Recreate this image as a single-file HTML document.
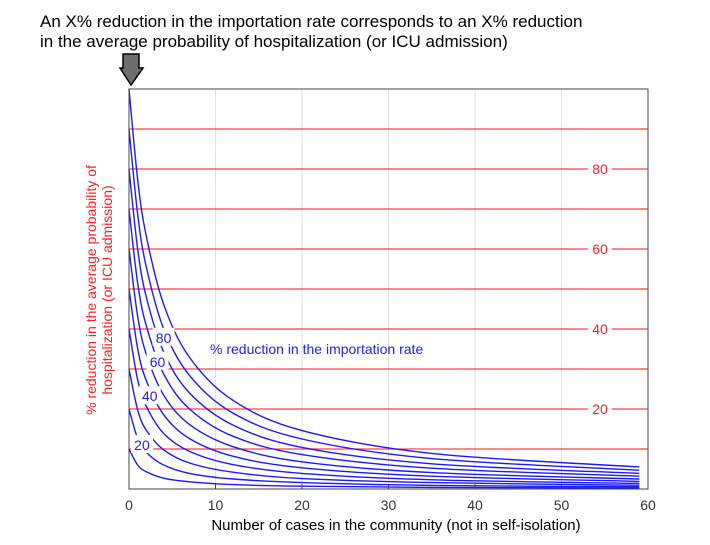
<!DOCTYPE html>
<html><head><meta charset="utf-8"><style>
html,body{margin:0;padding:0;background:#fff;}
svg{display:block;font-family:"Liberation Sans",Arial,sans-serif;}
</style></head><body>
<svg id="chart" width="710" height="545" viewBox="0 0 710 545" xmlns="http://www.w3.org/2000/svg">
<text x="40" y="27" font-size="17" fill="#000">An X% reduction in the importation rate corresponds to an X% reduction</text>
<text x="40" y="47" font-size="17" fill="#000">in the average probability of hospitalization (or ICU admission)</text>
<polygon points="123,54 139,54 139,68 143,68 131,85 120,68 123,68" fill="#6e6e6e" stroke="#000" stroke-width="1.5"/>
<g id="grid"></g>
<g id="red"></g>
<g id="curves"></g>
<g id="labels"></g>
<rect x="129" y="89" width="519" height="400" fill="none" stroke="#444" stroke-width="1"/>
<g id="ticks"></g>
<text x="210" y="354" font-size="14" fill="#2020ff">% reduction in the importation rate</text>
<text x="396" y="530" font-size="15" fill="#000" text-anchor="middle">Number of cases in the community (not in self-isolation)</text>
<text transform="translate(96,290) rotate(-90)" font-size="14" fill="#ff2020" text-anchor="middle">% reduction in the average probability of</text>
<text transform="translate(112,290) rotate(-90)" font-size="14" fill="#ff2020" text-anchor="middle">hospitalization (or ICU admission)</text>
</svg>
<script>
const xTicks=[0,10,20,30,40,50,60];
const redLevels=[10,20,30,40,50,60,70,80,90];
const redLabels=[20,40,60,80];
const sampleX=[0,1,2,4,7,12,20,35,59];
const curve10=[10,6,4.3,2.7,1.8,1.1,0.7,0.4,0.25];
const curve20=[20,12.6,9.2,6,3.9,2.5,1.6,0.9,0.56];
const curve30=[30,19.8,14.7,9.8,6.5,4.2,2.6,1.6,0.95];
const curve40=[40,27.3,20.7,13.9,9.4,6.1,3.9,2.3,1.4];
const curve50=[50,35.1,27.1,18.6,12.6,8.2,5.3,3.2,1.9];
const curve60=[60,43.2,33.7,23.5,16.1,10.6,6.8,4.1,2.5];
const curve70=[70,51.5,40.8,28.8,20,13.2,8.6,5.2,3.2];
const curve80=[80,60,48,34.3,24,16,10.4,6.3,3.9];
const curve90=[90,68.7,55.5,40.1,28.4,19,12.5,7.6,4.7];
const curve100=[100,77.4,63.2,46.2,32.9,22.2,14.6,8.9,5.5];
const curveLabels=["20","40","60","80"];
const curveLabelPos=[[1.5,11],[2.4,23.2],[3.3,31.8],[4,37.8]];

const NS="http://www.w3.org/2000/svg";
const X0=129,X1=648,Y0=489,Y1=89;
const sx=v=>X0+(v/60)*(X1-X0);
const sy=v=>Y0-(v/100)*(Y0-Y1);
function mk(tag,attrs,parent){const e=document.createElementNS(NS,tag);for(const k in attrs)e.setAttribute(k,attrs[k]);document.getElementById(parent).appendChild(e);return e;}

xTicks.forEach((t,i)=>{
  if(t>0&&t<60){const g=mk('line',{x1:sx(t),x2:sx(t),y1:Y1,y2:Y0,stroke:'#e2e2e2','stroke-width':1},'grid');
    
    }
  const tk=mk('line',{x1:sx(t),x2:sx(t),y1:Y0,y2:Y0-5,stroke:'#444'},'ticks');
  
  
  const tl=mk('text',{x:sx(t),y:Y0+21,'font-size':14,fill:'#333','text-anchor':'middle'},'ticks');
  
  
  tl.textContent=t;
});
redLevels.forEach(v=>{
  const lab=redLabels.includes(v);
  const cx=600;
  if(lab){
    const a=mk('line',{x1:X0,x2:cx-12,y1:sy(v),y2:sy(v),stroke:'#ff4040','stroke-width':1.3},'red');
    
    
    const b=mk('line',{x1:cx+12,x2:X1,y1:sy(v),y2:sy(v),stroke:'#ff4040','stroke-width':1.3},'red');
    
    
    const t=mk('text',{x:cx,y:sy(v)+5,'font-size':14,fill:'#ff2020','text-anchor':'middle'},'red');
    
    
    t.textContent=v;
  } else {
    const a=mk('line',{x1:X0,x2:X1,y1:sy(v),y2:sy(v),stroke:'#ff4040','stroke-width':1.3},'red');
    
    
  }
});
const curves=[curve10,curve20,curve30,curve40,curve50,curve60,curve70,curve80,curve90,curve100];
function pathFor(vals){
  const pts=sampleX.map((x,i)=>[sx(x),sy(vals[i])]);
  let d=`M${pts[0][0]},${pts[0][1]}`;
  for(let i=0;i<pts.length-1;i++){
    const p0=pts[i-1]||pts[i],p1=pts[i],p2=pts[i+1],p3=pts[i+2]||p2;
    const c1=[p1[0]+(p2[0]-p0[0])/6,p1[1]+(p2[1]-p0[1])/6];
    const c2=[p2[0]-(p3[0]-p1[0])/6,p2[1]-(p3[1]-p1[1])/6];
    d+=` C${c1[0]},${c1[1]} ${c2[0]},${c2[1]} ${p2[0]},${p2[1]}`;
  }
  return d;
}
curves.forEach((c,i)=>{
  const p=mk('path',{d:pathFor(c),fill:'none',stroke:'#1a1aff','stroke-width':1.4},'curves');
  
  
});
curveLabels.forEach((l,i)=>{
  const [x,y]=curveLabelPos[i];
  const bg=mk('rect',{x:sx(x)-11,y:sy(y)-10,width:22,height:18,fill:'#fff'},'labels');
  
  
  const t=mk('text',{x:sx(x),y:sy(y)+5,'font-size':14,fill:'#2020ff','text-anchor':'middle'},'labels');
  
  
  t.textContent=l;
});
</script>
</body></html>
